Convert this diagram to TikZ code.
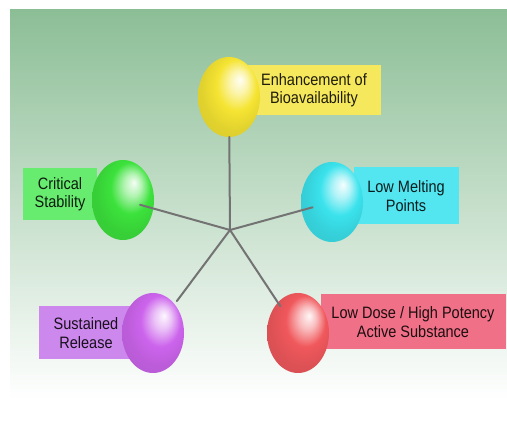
\documentclass[tikz,border=0pt]{standalone}
\usepackage{fontspec}
\setmainfont[FakeStretch=0.88]{Liberation Sans}
\usetikzlibrary{shapes.geometric,calc}

\definecolor{bgtop}{RGB}{140,190,150}
\definecolor{yelball}{RGB}{245,228,50}
\definecolor{yellab}{RGB}{246,232,92}
\definecolor{grnball}{RGB}{60,226,60}
\definecolor{grnlab}{RGB}{104,236,112}
\definecolor{cyaball}{RGB}{58,226,236}
\definecolor{cyalab}{RGB}{84,230,240}
\definecolor{purball}{RGB}{204,100,236}
\definecolor{purlab}{RGB}{204,136,236}
\definecolor{redball}{RGB}{240,88,92}
\definecolor{redlab}{RGB}{240,112,136}
\colorlet{sphcol}{white}

\pgfdeclareradialshading[sphcol]{sphere}{\pgfpoint{9bp}{11bp}}{color(0bp)=(sphcol!5!white); color(7bp)=(sphcol!40!white); color(16bp)=(sphcol); color(26bp)=(sphcol!92!black); color(50bp)=(sphcol!85!black)}

\tikzset{sphere color/.code={\colorlet{sphcol}{#1}}}
\tikzset{bubble/.style={ellipse, minimum width=62pt, minimum height=80pt, inner sep=0pt, shade, shading=sphere, sphere color=#1}}
\tikzset{tag/.style={rectangle, fill=#1, text=#1!12!black, align=center, inner sep=0pt, font=\fontsize{16.5}{18.5}\selectfont}}
\tikzstyle{spoke} = [line width=2pt, draw=black!55, line cap=round]

\begin{document}
\begin{tikzpicture}[x=1pt, y=-1pt]
      \useasboundingbox (0,0) rectangle (507,443);
      \shade[top color=bgtop, bottom color=white] (10,10) rectangle (507,400);

      % labels behind the balls
      \node (bioT) [tag=yellab, minimum width=133pt, minimum height=50pt] at (314,90) {Enhancement of\\Bioavailability};
      \node (stabT) [tag=grnlab, minimum width=74pt, minimum height=52pt] at (60,194) {Critical\\Stability};
      \node (meltT) [tag=cyalab, minimum width=105pt, minimum height=57pt] at (406,196) {Low Melting\\Points};
      \node (relT) [tag=purlab, minimum width=94pt, minimum height=53pt] at (86,333) {Sustained\\Release};
      \node (doseT) [tag=redlab, minimum width=185pt, minimum height=55pt] at (413,322) {Low Dose / High Potency\\Active Substance};

      % balls
      \node (bio) [bubble=yelball] at (229,97) {};
      \node (stab) [bubble=grnball] at (123,200) {};
      \node (melt) [bubble=cyaball] at (332,202) {};
      \node (rel) [bubble=purball] at (153,333) {};
      \node (dose) [bubble=redball] at (298,333) {};

      \coordinate (hub) at (230,230);

      \draw [spoke] (hub) -- ($(hub)!0.70!(bio)$);
      \draw [spoke] (hub) -- ($(hub)!0.84!(stab)$);
      \draw [spoke] (hub) -- ($(hub)!0.81!(melt)$);
      \draw [spoke] (hub) -- ($(hub)!0.69!(rel)$);
      \draw [spoke] (hub) -- ($(hub)!0.74!(dose)$);
\end{tikzpicture}
\end{document}
